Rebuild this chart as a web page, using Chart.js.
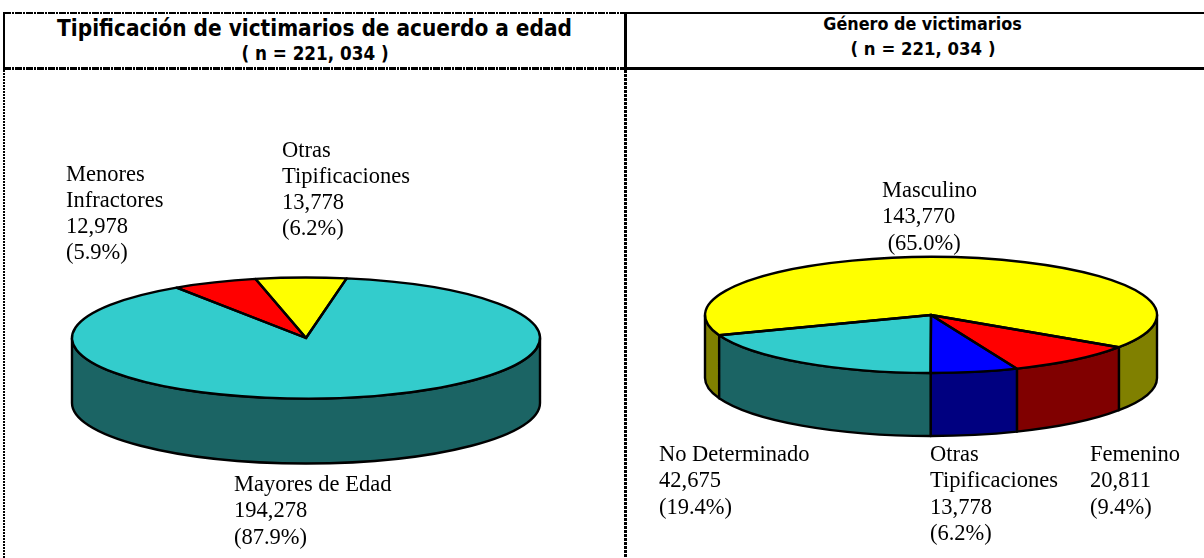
<!DOCTYPE html>
<html><head><meta charset="utf-8">
<script src="https://cdn.jsdelivr.net/npm/chart.js@4/dist/chart.umd.js"></script>
<style>
html,body{margin:0;padding:0;background:#fff;width:1204px;height:558px;overflow:hidden}
canvas{position:absolute;display:block}
.t{position:absolute;font-family:"Liberation Serif",serif;font-size:22.5px;line-height:26.3px;color:#000;white-space:pre}
.h{position:absolute;font-family:"DejaVu Sans",sans-serif;font-stretch:condensed;font-weight:bold;color:#000;text-align:center;white-space:pre}
.b{position:absolute;background:#000}
.dh{background:repeating-linear-gradient(90deg,#000 0 7px,#fff 7px 8px,#000 8px 10px,#fff 10px 11px)}
.dv1{background:repeating-linear-gradient(180deg,#000 0 2px,#fff 2px 3px)}
.dv2{background:repeating-linear-gradient(180deg,#000 0 3px,#fff 3px 4px)}
</style></head><body>
<div class="b dh" style="left:4px;top:12px;width:620px;height:2px"></div>
<div class="b dh" style="left:4px;top:67px;width:620px;height:3px"></div>
<div class="b" style="left:3px;top:12px;width:2px;height:58px"></div>
<div class="b dv1" style="left:3px;top:70px;width:2px;height:488px"></div>
<div class="b" style="left:624px;top:12px;width:3px;height:58px"></div>
<div class="b dv2" style="left:624px;top:70px;width:3px;height:488px"></div>
<div class="b" style="left:624px;top:12px;width:580px;height:2px"></div>
<div class="b" style="left:624px;top:67px;width:580px;height:3px"></div>
<canvas id="c1" width="612" height="440" style="left:0;top:118px;width:612px;height:440px"></canvas>
<canvas id="c2" width="480" height="440" style="left:691px;top:95px;width:480px;height:440px"></canvas>
<div class="h" style="left:0;top:14px;width:629px;font-size:22.4px;line-height:28px">Tipificación de victimarios de acuerdo a edad</div>
<div class="h" style="left:0;top:42px;width:630px;font-size:18.7px;line-height:24px">( n = 221, 034 )</div>
<div class="h" style="left:625px;top:14px;width:595px;font-size:17.8px;line-height:20px">Género de victimarios</div>
<div class="h" style="left:625px;top:37px;width:596px;font-size:18.4px;line-height:24px">( n = 221, 034 )</div>
<div class="t" style="left:66px;top:160.5px">Menores
Infractores
12,978
(5.9%)</div>
<div class="t" style="left:282px;top:136.5px">Otras
Tipificaciones
13,778
(6.2%)</div>
<div class="t" style="left:234px;top:471px">Mayores de Edad
194,278
(87.9%)</div>
<div class="t" style="left:882px;top:177px">Masculino
143,770
 (65.0%)</div>
<div class="t" style="left:659px;top:441px">No Determinado
42,675
(19.4%)</div>
<div class="t" style="left:930px;top:441px">Otras
Tipificaciones
13,778
(6.2%)</div>
<div class="t" style="left:1090px;top:441px">Femenino
20,811
(9.4%)</div>
<script>
const edadLabels=["Mayores de Edad","Menores Infractores","Otras Tipificaciones"];
const edadValues=[194278,12978,13778];
const edadTop=["#33CCCC","#FF0000","#FFFF00"];
const edadSide=["#1B6464","#800000","#808000"];
const generoLabels=["Masculino","Femenino","Otras Tipificaciones","No Determinado"];
const generoValues=[143770,20811,13778,42675];
const generoTop=["#FFFF00","#FF0000","#0000FF","#33CCCC"];
const generoSide=["#808000","#800000","#000080","#1B6464"];

const pie3d={
  id:'pie3d',
  beforeDatasetsDraw(chart,args,o){
    const ctx=chart.ctx,arcs=chart.getDatasetMeta(0).data;
    const {x,y,outerRadius:r}=arcs[0],ry=r*o.ratio,d=o.depth;
    ctx.save();
    ctx.lineWidth=o.line;ctx.strokeStyle='#000';ctx.lineJoin='round';
    arcs.forEach((a,i)=>{
      const T=2*Math.PI;
      [[a.startAngle,a.endAngle],[a.startAngle-T,a.endAngle-T],[a.startAngle+T,a.endAngle+T]].forEach(([s,e])=>{
        const s2=Math.max(s,0),e2=Math.min(e,Math.PI);
        if(e2<=s2)return;
        ctx.beginPath();
        ctx.ellipse(x,y,r,ry,0,s2,e2);
        ctx.lineTo(x+r*Math.cos(e2),y+ry*Math.sin(e2)+d);
        ctx.ellipse(x,y+d,r,ry,0,e2,s2,true);
        ctx.closePath();
        ctx.fillStyle=o.side[i];ctx.fill();ctx.stroke();
      });
    });
    ctx.restore();
    ctx.save();
    ctx.translate(x,y);ctx.scale(1,o.ratio);ctx.translate(-x,-y);
  },
  afterDatasetsDraw(chart,args,o){
    const ctx=chart.ctx,arcs=chart.getDatasetMeta(0).data;
    ctx.restore();
    const {x,y,outerRadius:r}=arcs[0],ry=r*o.ratio;
    ctx.save();
    ctx.lineWidth=o.line;ctx.strokeStyle='#000';ctx.lineJoin='round';
    arcs.forEach(a=>{
      ctx.beginPath();ctx.moveTo(x,y);
      ctx.ellipse(x,y,r,ry,0,a.startAngle,a.endAngle);
      ctx.closePath();ctx.stroke();
    });
    ctx.restore();
  }
};
function make(id,labels,values,top,side,radius,rotation,ratio,depth){
  new Chart(document.getElementById(id),{type:'pie',plugins:[pie3d],
    data:{labels,datasets:[{data:values,backgroundColor:top,borderWidth:0,clip:false}]},
    options:{responsive:false,animation:false,radius,rotation,
      plugins:{legend:{display:false},tooltip:{enabled:false},title:{display:false},
        pie3d:{ratio,depth,side,line:2.4}}}});
}
make('c1',edadLabels,edadValues,edadTop,edadSide,234,10,60.5/234,65);
make('c2',generoLabels,generoValues,generoTop,generoSide,226,-110.4,58/226,63);
</script>
</body></html>
